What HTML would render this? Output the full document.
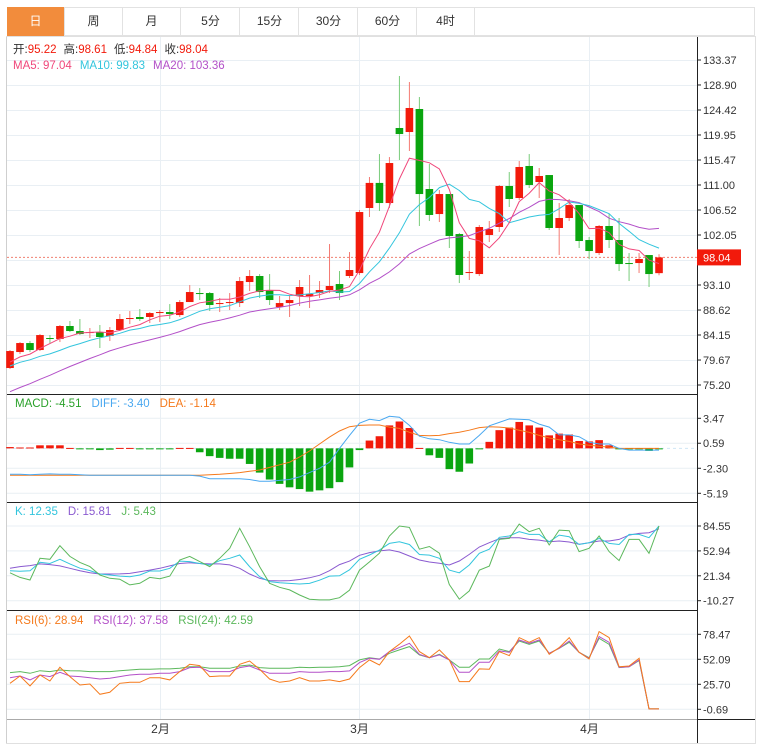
<!DOCTYPE html>
<html><head><meta charset="utf-8"><style>
body{margin:0;background:#fff;width:764px;height:753px;overflow:hidden;font-family:"Liberation Sans","Noto Sans CJK SC",sans-serif;}
#wrap{position:absolute;left:0;top:0;width:764px;height:753px;}
.tab{position:absolute;top:7px;height:29px;width:58px;line-height:29px;text-align:center;font-size:12px;color:#333;border-right:1px solid #e2e2e2;box-sizing:border-box;}
</style></head><body>
<div id="wrap">
<div style="position:absolute;left:7px;top:7px;width:748px;height:29px;border:1px solid #e2e2e2;box-sizing:border-box;"></div>
<div class="tab" style="left:7px;background:#f28c3c;color:#fff;">日</div>
<div class="tab" style="left:65px">周</div>
<div class="tab" style="left:123px">月</div>
<div class="tab" style="left:182px">5分</div>
<div class="tab" style="left:241px">15分</div>
<div class="tab" style="left:300px">30分</div>
<div class="tab" style="left:359px">60分</div>
<div class="tab" style="left:417px">4时</div>
<svg id="chart" width="764" height="753" style="position:absolute;left:0;top:0" xmlns="http://www.w3.org/2000/svg"></svg>
</div>
<script>
const opens=[78.24,81.1,82.71,81.46,83.61,83.43,85.76,84.86,84.5,84.68,83.97,85.04,87.01,87.37,87.37,88.08,88.26,87.72,90.05,91.66,91.66,89.69,89.87,89.87,93.63,94.71,92.2,89.16,89.87,91.13,91.13,91.66,92.2,93.27,94.71,95.24,106.88,111.37,107.77,121.2,120.48,124.6,110.28,105.8,109.38,102.22,95.24,95.06,102.05,103.48,110.82,108.67,114.4,111.53,112.78,103.3,105.09,107.41,101.15,98.82,103.66,101.15,97.03,97.03,98.46,95.22];
const highs=[81.46,82.89,83.07,84.32,84.14,85.94,86.65,87.01,85.4,85.94,85.58,87.9,88.44,88.8,88.26,88.62,89.69,90.41,93.1,92.56,91.84,90.77,91.66,94.53,95.78,95.06,95.06,91.13,91.31,93.99,94.89,93.81,100.43,95.6,99.0,106.52,112.43,116.54,116.0,130.51,129.43,126.75,114.75,110.1,109.38,102.4,99.18,103.83,104.55,111.0,113.32,115.29,116.54,114.04,112.78,107.77,108.49,107.41,101.69,103.83,105.8,105.09,98.82,98.82,98.46,98.61];
const lows=[78.06,80.74,81.1,81.28,82.71,82.89,84.68,84.14,83.61,81.82,83.07,84.86,86.11,86.65,86.29,86.47,87.01,87.37,90.05,90.41,88.44,88.26,88.62,89.16,92.02,90.77,89.52,88.62,87.37,89.34,88.98,90.77,91.66,90.41,94.35,94.89,105.27,106.34,106.88,115.47,117.08,103.66,104.55,104.37,99.72,93.45,93.99,94.71,100.79,102.58,107.06,108.31,110.46,108.67,102.94,98.47,104.55,99.72,97.75,98.47,99.72,95.6,93.81,95.24,92.74,94.84];
const closes=[81.28,82.71,81.46,84.14,83.43,85.76,84.86,84.32,84.68,83.79,85.04,87.01,87.19,87.01,88.08,88.26,87.9,90.05,91.84,91.48,89.52,89.87,90.05,93.81,94.71,91.84,90.41,89.87,90.41,92.74,91.48,92.2,92.92,91.66,95.78,106.16,111.37,107.77,114.93,120.12,124.78,109.38,105.63,109.38,101.87,94.89,95.42,103.48,103.12,110.82,108.49,114.22,111.0,112.61,103.3,105.09,107.41,100.97,99.18,103.66,101.15,96.85,96.94,97.75,95.06,98.04];
const priorCloses=[67.5,68,68.5,69,69.5,69.5,70,70.5,70.5,71,76,77,78,79,79.5,78,79,79,79.2];
const macdHist=[0.15,0.1,0.1,0.35,0.35,0.35,0.05,-0.05,-0.1,-0.2,-0.15,0.05,0.05,-0.02,-0.05,-0.05,-0.05,0.05,0.05,-0.45,-0.9,-1.1,-1.2,-1.2,-1.8,-2.8,-3.6,-4.1,-4.5,-4.7,-5.0,-4.85,-4.6,-3.9,-2.2,-0.2,0.9,1.4,2.65,3.1,2.35,0.05,-0.8,-1.1,-2.4,-2.7,-1.75,-0.1,0.75,2.1,2.4,3.05,2.65,2.4,1.5,1.7,1.6,0.85,0.8,0.95,0.35,-0.1,-0.1,-0.1,-0.3,-0.05];
const diffVals=[-3.0,-3.0,-3.05,-3.0,-2.95,-3.0,-3.0,-3.05,-3.1,-3.1,-3.1,-3.1,-3.1,-3.1,-3.1,-3.1,-3.1,-3.1,-3.1,-3.2,-3.5,-3.5,-3.5,-3.5,-3.6,-3.8,-3.8,-3.7,-3.6,-3.3,-2.8,-2.3,-1.6,0,1.5,2.9,3.35,3.2,3.7,3.6,2.65,1.4,1.1,1.0,0.7,0.5,0.5,1.5,2.6,3.0,3.4,3.35,3.3,2.8,2.45,1.55,1.55,1.35,0.7,0.5,0.5,0,-0.2,-0.2,-0.2,-0.2];
const deaVals=[-3.1,-3.1,-3.1,-3.1,-3.1,-3.1,-3.1,-3.1,-3.1,-3.1,-3.1,-3.1,-3.1,-3.1,-3.1,-3.1,-3.1,-3.1,-3.1,-3.1,-3.05,-3.0,-2.9,-2.8,-2.65,-2.5,-2.2,-1.9,-1.6,-1.0,-0.3,0.5,1.3,2.0,2.5,2.65,2.7,2.7,2.45,2.3,1.85,1.5,1.45,1.5,1.7,1.85,2.1,2.4,2.5,2.45,2.35,2.1,1.85,1.5,1.2,1.0,0.8,0.5,0.35,0.25,0.15,0,0,0,0,0];
const kVals=[27.8,27,27.8,38.5,37,42.3,36.5,31,28,23.6,22.4,21,20.2,22.4,27.4,27.4,30.9,40,39.3,37,35,40.5,43.5,47.7,33,20.2,14,12.6,11.7,10.9,11.7,15.8,21,21.4,29,42.3,47.7,54,62.4,64.5,61.1,48.4,47.6,43.5,28.6,25.2,35,49.9,55.1,70.2,71.9,77.3,73.9,73.9,64.5,73,71,61.1,63.2,68.8,62.4,61.1,73.9,73.9,69.7,84.5];
const dVals=[30.9,33,34.3,36.5,35.5,33.9,30.9,27.8,25.2,23.6,23.6,23.8,24.4,26.5,28.6,30.9,33.9,37,38,37,36.5,36.5,35.2,30.9,23.6,18.2,15.2,14.8,15.2,16.7,18.8,22,27.8,35.6,40,47.3,50.8,52.9,54.2,51.6,46.5,41.4,38.9,37.2,35,40.1,48.5,57.9,63.4,68.4,69.7,69.7,67.6,66.7,64.6,65.5,64.2,61.3,63.4,65.5,65.5,67.6,73,75.2,76,81];
const jVals=[25.2,19.3,16,43.5,42.3,59.6,46,38.3,33,22.4,18.2,17,9.8,11.8,19.3,17.6,21,41.4,46,39.3,33,43.5,56.3,81.6,58.3,33,11.8,6.8,3.4,-3,-8.4,-9.2,-9.2,-6.4,3,28.6,39,50,71.9,84.5,82.8,55.1,58.5,50,10.3,-8.4,2.2,28.6,33.6,67.5,68.8,87,77.3,81.6,60.4,79.4,78.6,52,56.3,71.9,52,40.6,67.5,67.5,49.9,84.5];
const rsi6=[26.8,34.5,24,35.5,29.2,43.6,33.8,25,26,15.1,17.3,26.8,27.8,27.8,32.7,32.7,30.3,39.1,46.8,45.4,33.8,34.5,34.5,46.8,50.3,41.5,31.3,27.8,29.2,32.7,29.2,29.2,30.3,28.5,31.3,43.3,51.4,46.1,60.2,68,76.7,60.2,53.8,62,51.4,28.5,28.5,41.9,41.5,60.2,56,75,70,75,57.4,64.4,75,59.5,52.4,81.3,75,44.3,45,53.1,-0.3,-0.3];
const rsi12=[32.7,34.5,30.3,35.5,33.8,38.4,34.5,33.8,32.7,31.3,32,33.8,35.5,36.2,36.2,37.3,37.3,39.1,43.3,43.6,39.1,39.1,39.1,43.3,45,40.8,37.3,37.3,37.3,39.1,38.4,38.4,39.1,39.1,39.8,48.6,53.1,52.1,60.2,64.4,69,57.4,53.8,56.7,51.4,38.4,38.4,48.9,48.9,60.9,59.5,72.5,69,72.5,58.4,63.7,71.4,59.5,53.1,76,70,43.6,44.3,51.4,-0.3,-0.3];
const rsi24=[38,39.1,37.3,40.1,39.1,40.8,40.1,39.8,39.1,39.1,39.1,40.1,40.8,41.5,41.5,41.9,41.9,42.6,44.3,44.3,42.6,42.6,42.6,45,46.1,43.3,42.6,42.6,42.6,43.6,43.3,43.6,43.6,44.3,45.4,51.4,53.8,52.4,58.4,62,65.5,56.7,53.8,57.4,51.4,43.6,43.6,52.4,52.4,63,60.2,71.4,67.9,71.4,58.4,63.7,70,59.5,53.8,74.2,67.9,43.3,44.3,50.7,-0.3,-0.3];
const priceTicks=["133.37","128.90","124.42","119.95","115.47","111.00","106.52","102.05","97.57","93.10","88.62","84.15","79.67","75.20"];
const macdTicks=["3.47","0.59","-2.30","-5.19"];
const kdjTicks=["84.55","52.94","21.34","-10.27"];
const rsiTicks=["78.47","52.09","25.70","-0.69"];
const monthLabels=["2月","3月","4月"];
const monthIdx=[15,35,58];
const lastPrice=98.04;

const NS="http://www.w3.org/2000/svg";
const svg=document.getElementById('chart');
function el(t,a,p){const e=document.createElementNS(NS,t);for(const k in a)e.setAttribute(k,a[k]);(p||svg).appendChild(e);return e;}
const RED="#f21a0b",GREEN="#0aa50f",REDW="#f47a72",GREENW="#78cc7a";
const L=7,R=697;
const xAt=i=>10+i*9.985;
const yP=v=>60+(133.37-v)*325/58.17;
const yM=v=>418.3+(3.47-v)*75/8.66;
const yK=v=>526+(84.55-v)*74.7/94.82;
const yR=v=>634.3+(78.47-v)*75/79.16;

let g;
g=el('rect',{x:6.5,y:36.5,width:749,height:707,fill:'none',stroke:'#e0e0e0'});


function hgrid(y){const e=el('line',{x1:L,x2:R,y1:y,y2:y,stroke:'#e9eff4','stroke-width':1});}
for(let k=0;k<14;k++)hgrid(60.5+k*25);
for(let k=0;k<4;k++){hgrid(yM(parseFloat(macdTicks[k])));hgrid(yK(parseFloat(kdjTicks[k])));hgrid(yR(parseFloat(rsiTicks[k])));}
monthIdx.forEach((mi,j)=>{const x=Math.round(xAt(mi))+0.5;
 const e=el('line',{x1:x,x2:x,y1:37,y2:719,stroke:'#e9eff4'});
 const t=el('text',{x:x,y:733,'font-size':12,'text-anchor':'middle',fill:'#333'});t.textContent=monthLabels[j];});
[[394.5,'#222'],[502.5,'#222'],[610.5,'#222'],[719.5,'#aaa']].forEach(s=>{const e=el('line',{x1:L,x2:R,y1:s[0],y2:s[0],stroke:s[1]});});
g=el('line',{x1:R+0.5,x2:R+0.5,y1:37,y2:743,stroke:'#222'});
g=el('line',{x1:R,x2:755,y1:719.5,y2:719.5,stroke:'#222'});
g=el('line',{x1:6.5,x2:6.5,y1:37,y2:743,stroke:'#cfcfcf'});
function ytick(y,txt,name){const l=el('line',{x1:R,x2:R+4,y1:y,y2:y,stroke:'#222'});
 const t=el('text',{x:R+6,y:y+4,'font-size':11,fill:'#333'});t.textContent=txt;}
priceTicks.forEach((t,k)=>{if(k!==8)ytick(yP(parseFloat(t)),t,'price-tick-label');});
macdTicks.forEach(t=>ytick(yM(parseFloat(t)),t,'macd-tick-label'));
kdjTicks.forEach(t=>ytick(yK(parseFloat(t)),t,'kdj-tick-label'));
rsiTicks.forEach(t=>ytick(yR(parseFloat(t)),t,'rsi-tick-label'));
g=el('line',{x1:L,x2:R,y1:yP(lastPrice),y2:yP(lastPrice),stroke:'#f08070','stroke-dasharray':'2,2'});
g=el('rect',{x:R,y:yP(lastPrice)-8,width:44,height:16,fill:RED});
g=el('text',{x:R+6,y:yP(lastPrice)+4,'font-size':11,fill:'#fff'});g.textContent=lastPrice.toFixed(2);
closes.forEach((c,i)=>{const o=opens[i],up=c>=o,x=xAt(i);
 const w=el('line',{x1:x,x2:x,y1:yP(highs[i]),y2:yP(lows[i]),stroke:up?REDW:GREENW});
 
 
 const top=yP(Math.max(o,c)),bot=yP(Math.min(o,c));
 const b=el('rect',{x:x-3.8,y:top,width:7.6,height:Math.max(1,bot-top),fill:up?RED:GREEN});
 
 });
const all=priorCloses.concat(closes);
function ma(n){return closes.map((c,i)=>{const j=i+priorCloses.length;let s=0;for(let k=j-n+1;k<=j;k++)s+=all[k];return s/n;});}
function poly(vals,yf,color,name){const pts=vals.map((v,i)=>xAt(i).toFixed(1)+','+yf(v).toFixed(1)).join(' ');
 const p=el('polyline',{points:pts,fill:'none',stroke:color,'stroke-width':1});}
poly(ma(20),yP,'#b350c8','ma20-line');poly(ma(10),yP,'#33c5dd','ma10-line');poly(ma(5),yP,'#f0477b','ma5-line');
const z=yM(0);
g=el('line',{x1:L,x2:R,y1:z,y2:z,stroke:'#cfe6f5','stroke-dasharray':'3,3'});
macdHist.forEach((v,i)=>{const y=yM(v);const b=el('rect',{x:xAt(i)-3.8,y:Math.min(y,z),width:7.6,height:Math.max(1,Math.abs(y-z)),fill:v>=0?RED:GREEN});
 
 });
poly(deaVals,yM,'#f57a1c','dea-line');poly(diffVals,yM,'#4aa8f0','diff-line');
poly(dVals,yK,'#8a5ad0','kdj-d-line');poly(kVals,yK,'#33c5dd','kdj-k-line');poly(jVals,yK,'#5cb85c','kdj-j-line');
poly(rsi24,yR,'#5cb85c','rsi24-line');poly(rsi12,yR,'#b350c8','rsi12-line');poly(rsi6,yR,'#f57a1c','rsi6-line');
function legend(x,y,parts,name){const t=el('text',{x:x,y:y,'font-size':11.5});
 parts.forEach(p=>{const s=el('tspan',{fill:p[1]},t);if(p[2])s.setAttribute('dx',p[2]);s.textContent=p[0];});}
legend(13,53,[['开:','#333'],['95.22',RED],['高:','#333',7],['98.61',RED],['低:','#333',7],['94.84',RED],['收:','#333',7],['98.04',RED]],'ohlc-legend');
legend(13,69,[['MA5: 97.04','#f0477b'],['MA10: 99.83','#33c5dd',8],['MA20: 103.36','#b350c8',8]],'ma-legend');
legend(15,407,[['MACD: -4.51','#2aa12a'],['DIFF: -3.40','#4aa8f0',10],['DEA: -1.14','#f57a1c',10]],'macd-legend');
legend(15,515,[['K: 12.35','#33c5dd'],['D: 15.81','#8a5ad0',10],['J: 5.43','#5cb85c',10]],'kdj-legend');
legend(15,624,[['RSI(6): 28.94','#f57a1c'],['RSI(12): 37.58','#b350c8',10],['RSI(24): 42.59','#5cb85c',10]],'rsi-legend');
</script>
</body></html>
